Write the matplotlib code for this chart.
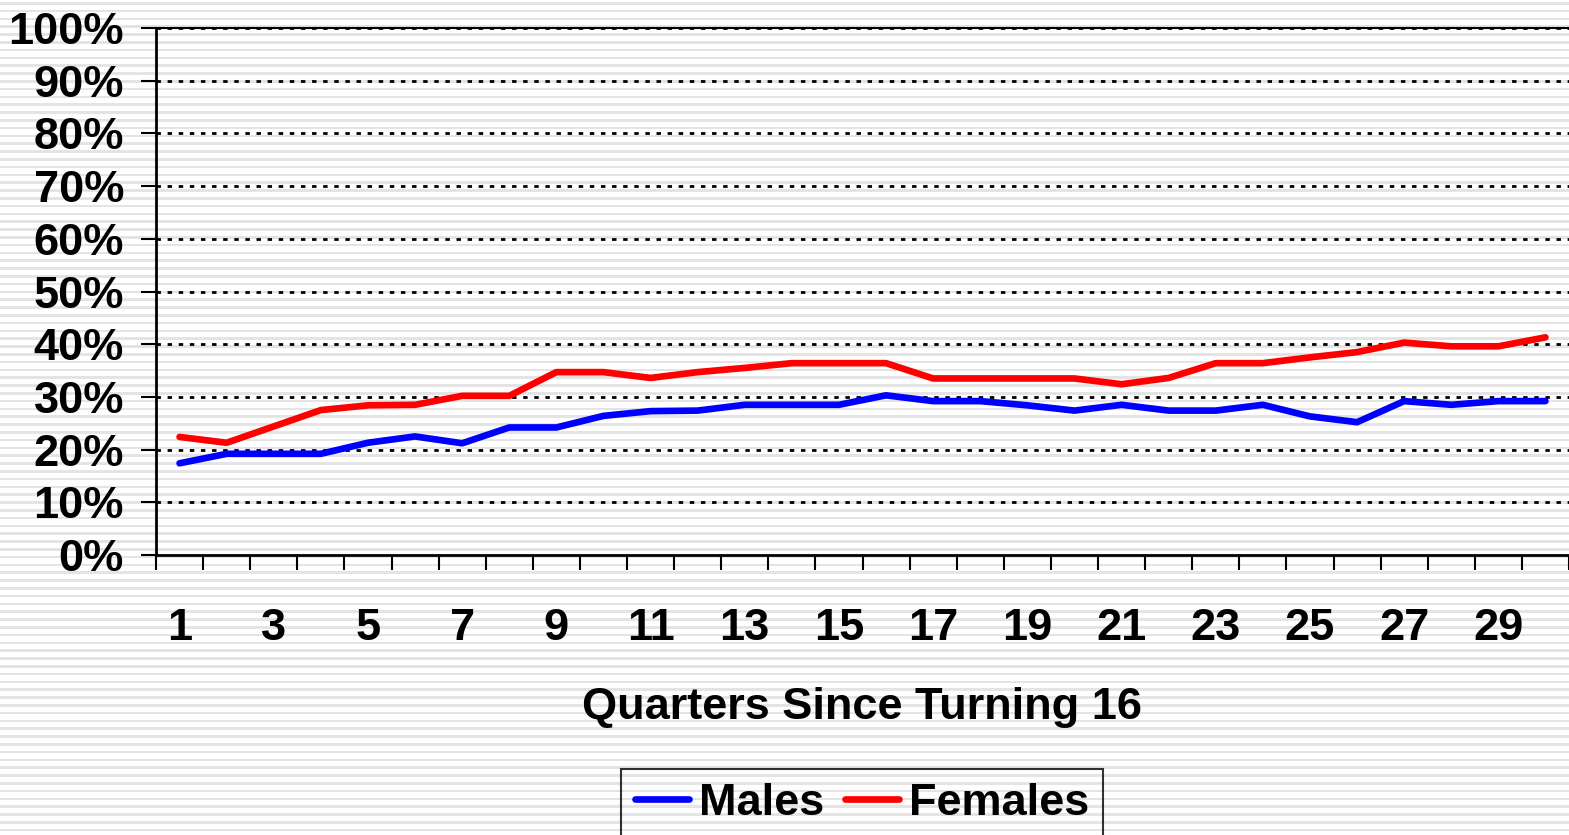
import numpy as np
import matplotlib
matplotlib.use("Agg")
import matplotlib.pyplot as plt

# data
quarters = list(range(1, 31))
males = [17.4, 19.2, 19.2, 19.2, 21.3, 22.5, 21.2, 24.2, 24.2, 26.4,
         27.3, 27.4, 28.5, 28.5, 28.5, 30.3, 29.2, 29.2, 28.4, 27.4,
         28.5, 27.4, 27.4, 28.5, 26.3, 25.2, 29.2, 28.5, 29.2, 29.2]
females = [22.4, 21.3, 24.4, 27.5, 28.4, 28.5, 30.2, 30.2, 34.7, 34.7,
           33.6, 34.7, 35.5, 36.4, 36.4, 36.4, 33.5, 33.5, 33.5, 33.5,
           32.4, 33.6, 36.4, 36.4, 37.5, 38.5, 40.3, 39.6, 39.6, 41.3]
y_ticks = list(range(0, 101, 10))
x_labels = list(range(1, 30, 2))

plt.rcParams['font.family'] = ['Liberation Sans', 'DejaVu Sans']
plt.rcParams['font.weight'] = 'bold'
FS = 32.5

W, H = 1569, 835
fig = plt.figure(figsize=(W / 100, H / 100), dpi=100)
fig.patch.set_facecolor('white')

# striped background over the whole figure
bg = fig.add_axes([0, 0, 1, 1], zorder=-10)
bg.set_xlim(0, W)
bg.set_ylim(H, 0)
bg.axis('off')
for y in np.arange(2, H, 7.8):
    bg.axhspan(y, y + 2.6, color='#e4e4e4', lw=0)

ax = fig.add_axes([156 / W, 1 - 555 / H, 1 - 156 / W, (555 - 28) / H])
ax.set_facecolor('none')

ax.plot(quarters, males, color='#0000ff', lw=4.8, solid_capstyle='round', label='Males')
ax.plot(quarters, females, color='#ff0000', lw=4.8, solid_capstyle='round', label='Females')

ax.set_xlim(0.5, 30.5)
ax.set_ylim(0, 100)

# dotted gridlines
for v in y_ticks[1:]:
    ax.axhline(v, color='black', lw=2, ls=(0, (1.6, 2.4)), zorder=1)

ax.spines['right'].set_visible(False)
ax.spines['top'].set_linewidth(1.5)
ax.spines['left'].set_linewidth(2)
ax.spines['bottom'].set_linewidth(2)

ax.set_yticks(y_ticks)
ax.set_yticklabels([f'{v}%' for v in y_ticks], fontsize=FS, fontweight='bold')
ax.tick_params(axis='y', length=11, width=1.5, pad=12)

ax.set_xticks(np.arange(0.5, 31, 1))
ax.set_xticklabels([])
ax.tick_params(axis='x', which='major', length=11, width=1.5)
ax.set_xticks(x_labels, minor=True)
ax.set_xticklabels([str(v) for v in x_labels], minor=True, fontsize=FS, fontweight='bold')
ax.tick_params(axis='x', which='minor', length=0, pad=38)

ax.set_xlabel('Quarters Since Turning 16', fontsize=FS, fontweight='bold')
ax.xaxis.set_label_coords(0.5, -0.25)

leg = ax.legend(loc='upper center', bbox_to_anchor=(862 / W, 1 - 769 / H),
                bbox_transform=fig.transFigure, ncol=2, fancybox=False,
                prop={'size': FS, 'weight': 'bold'}, handlelength=1.2,
                handletextpad=0.22, columnspacing=0.45, borderpad=0.3,
                borderaxespad=0)
leg.get_frame().set_edgecolor('black')
leg.get_frame().set_linewidth(1.5)
leg.get_frame().set_facecolor('none')

fig.savefig('out.png', dpi=100)
